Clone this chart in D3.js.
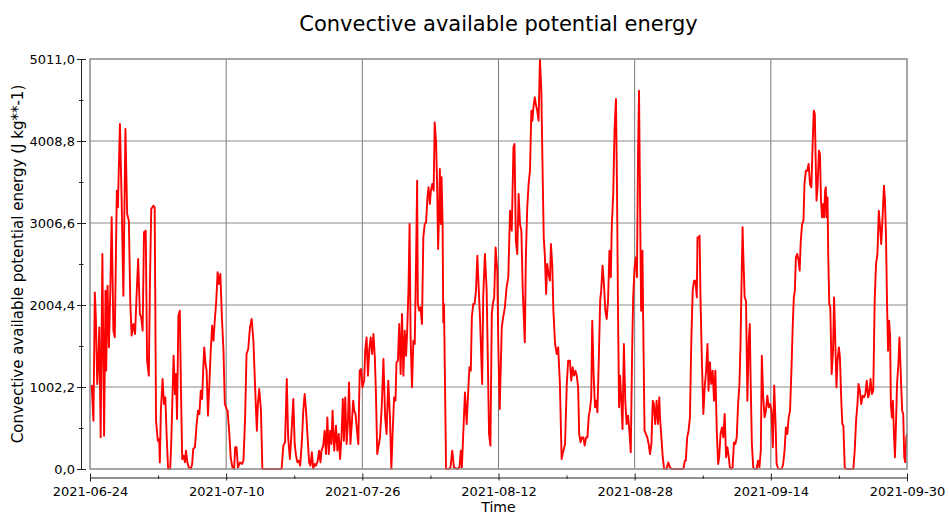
<!DOCTYPE html>
<html>
<head>
<meta charset="utf-8">
<script src="https://cdn.jsdelivr.net/npm/d3@7/dist/d3.min.js"></script>
<style>
  body { margin: 0; background: #fff; }
  text { font-family: "DejaVu Sans", sans-serif; fill: #000; }
</style>
</head>
<body>
<div id="viz"></div>
<script>
// hours since 2021-06-24 00:00 UTC, and CAPE values (J kg**-1)
var hours = [
  0,5,10,14,17,21,24,27,31,36,41,45,47,51,55,59,63,68,72,78,81,87,92,97,103,108,113,117,121,126,
  131,136,140,145,149,153,157,162,166,171,174,178,184,188,192,197,201,203,206,211,215,219,223,227,233,236,240,243,247,250,
  253,257,261,265,268,272,276,279,283,287,293,297,300,305,310,314,318,322,326,329,332,336,339,343,347,351,355,359,362,367,
  371,375,379,383,388,392,397,400,405,409,414,419,422,426,430,436,442,446,451,455,460,465,470,475,480,485,488,492,497,501,
  557,562,567,572,576,581,585,591,595,599,603,607,611,616,620,624,628,632,637,641,645,649,653,657,662,666,670,673,678,682,
  686,690,694,698,702,705,710,715,719,723,727,731,735,738,742,746,750,753,757,761,765,768,772,776,780,784,788,792,797,800,
  804,808,812,816,820,824,828,831,835,843,848,853,858,862,867,872,876,880,884,888,891,895,899,903,907,911,915,919,922,926,
  929,932,936,940,944,948,951,953,957,961,965,969,973,977,981,984,988,991,995,999,1002,1006,1009,1012,1015,1017,1020,1022,1025,1027,
  1029,1032,1035,1043,1048,1053,1058,1068,1074,1078,1081,1085,1090,1095,1099,1103,1107,1110,1114,1118,1122,1126,1129,1134,1140,1143,1148,1153,1156,1160,
  1164,1168,1171,1175,1179,1184,1187,1191,1197,1201,1206,1211,1216,1221,1226,1231,1234,1238,1242,1246,1250,1254,1258,1264,1267,1271,1275,1279,1283,1286,
  1289,1293,1296,1300,1304,1308,1312,1316,1319,1322,1326,1329,1333,1337,1340,1344,1347,1352,1357,1361,1366,1371,1376,1381,1386,1390,1395,1399,1403,1407,
  1411,1415,1419,1422,1426,1430,1434,1438,1442,1446,1450,1453,1457,1460,1464,1468,1472,1475,1479,1483,1486,1490,1494,1498,1502,1506,1510,1514,1517,1521,
  1525,1529,1532,1535,1538,1541,1545,1548,1552,1556,1560,1564,1568,1572,1576,1579,1583,1587,1590,1593,1596,1599,1602,1606,1608,1612,1616,1620,1624,1628,
  1632,1636,1639,1643,1647,1651,1655,1657,1661,1665,1669,1676,1681,1686,1691,1725,1729,1732,1736,1740,1744,1748,1752,1756,1760,1764,1766,1769,1772,1775,
  1779,1783,1787,1791,1795,1798,1802,1806,1810,1814,1818,1822,1826,1829,1833,1837,1841,1845,1849,1853,1857,1860,1864,1868,1872,1876,1880,1884,1888,1891,
  1894,1897,1900,1903,1907,1911,1915,1918,1920,1924,1928,1932,1938,1942,1946,1950,1953,1957,1961,1965,1969,1973,1977,1981,1985,1989,1993,1996,2001,2011,
  2015,2019,2023,2027,2031,2035,2039,2043,2046,2049,2052,2056,2060,2063,2066,2070,2074,2077,2081,2085,2089,2093,2097,2101,2104,2107,2109,2112,2115,2119,
  2122,2125,2128,2131,2134,2137,2139,2141,2144,2146,2149,2152,2156,2160,2163,2167,2170,2173,2177,2180,2184,2187,2190,2194,2198,2219,2223,2227,2231,2234,
  2238,2242,2246,2250,2254,2258,2262,2265,2269,2273,2277,2281,2285,2289,2293,2296,2300,2304,2308,2311,2314,2317,2320,2323,2326,2328,2331,2334,2337,2340,
  2343,2346,2350,2353,2356,2359,2361,2364,2367,2370,2373,2375
];
var cape = [
  998,1018,590,2159,1854,1039,1283,1731,387,2628,407,2180,1202,2241,1487,2180,3076,1691,1609,3402,3198,4217,3280,2118,4155,3117,3035,2057,1630,1772,
  1650,2180,2567,1894,1854,1691,2893,2913,1324,1141,2200,3178,3218,3198,590,346,367,81,713,1100,794,876,387,0,0,306,917,1385,917,1161,
  611,1874,1935,835,122,163,81,224,81,20,0,61,244,265,550,713,672,957,855,1202,1487,1283,1202,652,1039,1446,1752,1568,1772,2057,
  2404,2261,2383,1894,1446,794,733,713,428,143,20,0,265,265,20,81,61,102,631,1405,1467,1731,1833,1568,998,468,794,978,713,0,
  0,285,326,1100,387,122,387,855,306,163,81,102,41,346,713,917,713,428,81,41,204,0,61,41,102,224,81,224,285,468,
  183,631,183,468,306,713,224,530,224,428,122,387,855,346,876,306,591,1059,306,550,835,713,672,468,306,1202,1222,998,1080,1446,
  1609,1141,1467,1609,1405,1650,1365,957,183,387,754,1344,631,428,1080,631,0,468,876,835,1304,1324,1772,1161,1894,1141,1691,1385,1691,2220,
  2994,1609,998,1568,1528,2587,3524,2017,1935,1976,1772,2831,2994,3015,3320,3443,3239,3402,3483,3402,4237,3993,3483,2689,3157,3667,2994,3565,2994,1793,
  2017,1039,0,0,20,224,20,0,20,224,20,428,937,550,917,1243,1202,1854,2017,2017,2180,2607,2302,1813,1039,2098,2628,2200,1446,428,
  285,1894,2017,2098,2709,2424,1487,733,1731,1854,1976,2220,2343,3157,2913,3931,3972,2791,2628,3361,2994,2913,2180,1548,2587,3198,3483,3646,4380,4257,
  4420,4543,4461,4380,4257,5011,4624,3565,2831,2628,2139,2506,2383,2302,2750,2465,1935,1528,1405,1487,1039,122,224,306,1039,1324,1324,1080,1243,1141,
  1202,1141,998,428,326,387,387,285,387,387,652,713,876,1813,1161,754,835,693,1324,2057,2180,2485,2261,1935,1833,2057,2669,2343,2994,3361,
  4176,4522,3402,1894,754,1141,794,489,1528,835,550,652,468,204,1446,2098,2465,2587,2343,3809,4624,3280,1935,2669,1854,468,428,387,306,183,
  306,835,794,550,835,550,876,631,387,143,0,0,81,20,0,0,102,102,387,468,631,1568,2180,2302,2302,2098,2831,2831,2852,2017,
  1283,672,998,1202,1528,957,1304,1039,1202,835,1202,468,61,143,428,509,387,672,143,265,143,20,0,20,326,306,387,794,1039,1528,
  2261,2954,2506,2098,2057,835,1568,1772,1202,306,20,0,0,102,20,224,1385,876,631,713,896,754,794,713,265,1018,550,61,0,0,
  61,224,509,428,631,713,1202,1772,2098,2180,2587,2628,2546,2424,2770,2994,3035,3483,3646,3646,3728,3483,3443,4013,4380,4339,3891,3280,3443,3891,
  3850,3280,3076,3239,3076,3402,3443,3076,3320,2628,2017,1976,1161,1446,2098,1487,998,1324,1487,1365,835,550,530,20,0,0,224,591,794,1039,
  957,794,896,876,917,1080,876,917,1100,917,957,2057,2506,2628,3157,2994,2750,3076,3463,3280,2831,2017,1446,1813,1609,794,631,835,428,143,
  550,1039,1283,1609,1283,917,713,672,143,81,387,428
];
var xTickLabels = ['2021-06-24', '2021-07-10', '2021-07-26', '2021-08-12', '2021-08-28', '2021-09-14', '2021-09-30'];
var yTicks = [0, 1002.2, 2004.4, 3006.6, 4008.8, 5011.0];

var margin = {top: 59, right: 42, bottom: 46, left: 90},
    width = 949 - margin.left - margin.right,
    height = 515 - margin.top - margin.bottom;

var svg = d3.select('#viz').append('svg')
    .attr('width', 949)
    .attr('height', 515);

var g = svg.append('g')
    .attr('transform', 'translate(' + margin.left + ',' + margin.top + ')');

var start = Date.UTC(2021, 5, 24, 0);
var data = hours.map(function(h, i) {
  return {date: new Date(start + h * 3600e3), value: cape[i]};
});

var x = d3.scaleUtc()
    .domain([new Date(start), new Date(start + hours[hours.length - 1] * 3600e3)])
    .range([0, width]);
var y = d3.scaleLinear().domain([0, yTicks[yTicks.length - 1]]).range([height, 0]);

var dom = x.domain();
var step = (dom[1] - dom[0]) / (xTickLabels.length - 1);
var xTicks = xTickLabels.map(function(l, i) { return new Date(+dom[0] + i * step); });
var xMinor = d3.range(xTicks.length - 1).map(function(i) { return new Date(+dom[0] + (i + 0.5) * step); });
var yMinor = d3.range(yTicks.length - 1).map(function(i) { return (yTicks[i] + yTicks[i + 1]) / 2; });

var fmtY = function(v) { return d3.format('.1f')(v).replace('.', ','); };

// grid
g.selectAll('.hgrid').data(yTicks.slice(1, -1)).enter().append('line')
    .attr('x1', 0).attr('x2', width)
    .attr('y1', function(d) { return y(d); }).attr('y2', function(d) { return y(d); })
    .attr('stroke', '#8a8a8a').attr('stroke-width', 1);
g.selectAll('.vgrid').data(xTicks.slice(1, -1)).enter().append('line')
    .attr('y1', 0).attr('y2', height)
    .attr('x1', function(d) { return x(d); }).attr('x2', function(d) { return x(d); })
    .attr('stroke', '#7a7a7a').attr('stroke-width', 1);

// the series
var line = d3.line()
    .x(function(d) { return x(d.date); })
    .y(function(d) { return y(d.value); });

g.append('path')
    .datum(data)
    .attr('fill', 'none')
    .attr('stroke', '#ff0000')
    .attr('stroke-width', 1.9)
    .attr('stroke-linejoin', 'round')
    .attr('d', line);

// plot border
g.append('rect')
    .attr('x', 0).attr('y', 0).attr('width', width).attr('height', height)
    .attr('fill', 'none').attr('stroke', '#8a8a8a').attr('stroke-width', 1.5);

// y axis
var yAxis = g.append('g')
    .attr('transform', 'translate(-9,0)')
    .call(d3.axisLeft(y).tickValues(yTicks).tickFormat(fmtY).tickSize(4));
yAxis.selectAll('.tick line').attr('x1', 5).attr('x2', -4);
var yMin = g.append('g')
    .attr('transform', 'translate(-9,0)')
    .call(d3.axisLeft(y).tickValues(yMinor).tickFormat('').tickSize(2));
yMin.selectAll('.tick line').attr('x1', 2.5).attr('x2', -2);
yMin.select('.domain').remove();

// x axis
var xAxis = g.append('g')
    .attr('transform', 'translate(0,' + (height + 8.5) + ')')
    .call(d3.axisBottom(x).tickValues(xTicks).tickFormat(function(d, i) { return xTickLabels[i]; }).tickSize(4));
xAxis.selectAll('.tick line').attr('y1', -4).attr('y2', 3);
xAxis.selectAll('.tick text').attr('y', 18).attr('dy', 0);
var xMin = g.append('g')
    .attr('transform', 'translate(0,' + (height + 8.5) + ')')
    .call(d3.axisBottom(x).tickValues(xMinor).tickFormat('').tickSize(2));
xMin.selectAll('.tick line').attr('y1', -2).attr('y2', 1.5);
xMin.select('.domain').remove();

svg.selectAll('.domain').attr('stroke', '#222');
svg.selectAll('.tick line').attr('stroke', '#222');
svg.selectAll('.tick text').style('font-size', '13px').attr('fill', '#000')
    .style('font-family', '"DejaVu Sans", sans-serif');
yAxis.selectAll('.tick text').attr('x', -6);

// labels
svg.append('text')
    .attr('x', margin.left + width / 2).attr('y', 31)
    .attr('text-anchor', 'middle')
    .style('font-size', '21px')
    .text('Convective available potential energy');

svg.append('text')
    .attr('x', margin.left + width / 2).attr('y', 511.6)
    .attr('text-anchor', 'middle')
    .style('font-size', '14px')
    .text('Time');

svg.append('text')
    .attr('transform', 'translate(23,' + (margin.top + height / 2) + ') rotate(-90)')
    .attr('text-anchor', 'middle')
    .style('font-size', '15px')
    .text('Convective available potential energy (J kg**-1)');
</script>
</body>
</html>
